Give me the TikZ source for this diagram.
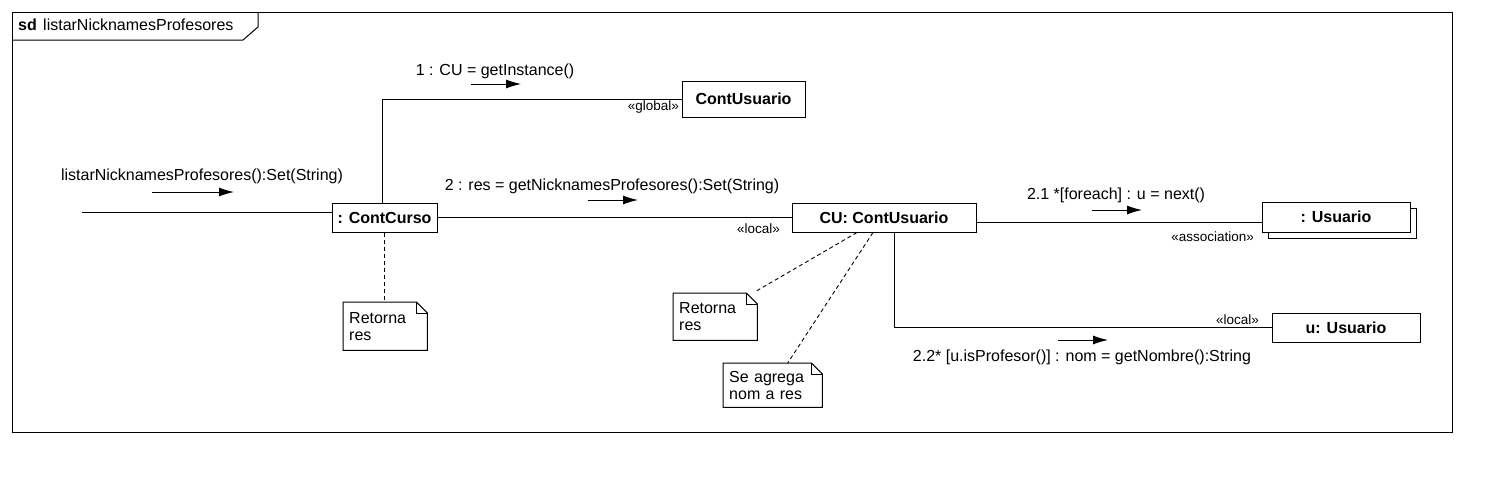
\documentclass[tikz,border=0pt]{standalone}
\usepackage{fontspec}
\setmainfont{Liberation Sans}
\usepackage{tikz}
\usetikzlibrary{arrows.meta, positioning, shadows}

\begin{document}
\begin{tikzpicture}[x=1pt, y=-1pt, >={Latex[length=15pt, width=9pt]},
    objeto/.style={draw, fill=white, line width=1pt, font=\fontsize{16}{17}\selectfont\bfseries, minimum height=29pt, inner sep=0pt},
    texto/.style={font=\fontsize{16}{17}\selectfont, inner sep=0pt},
    estereo/.style={font=\fontsize{13.5}{15}\selectfont, inner sep=0pt, anchor=east},
    nota/.style={font=\fontsize{16}{17}\selectfont, align=left, anchor=north west, inner xsep=6pt, inner ysep=0pt},
    enlace/.style={line width=1pt},
    nexo/.style={dash pattern=on 4pt off 3pt, line width=0.9pt}]
    \useasboundingbox (0,0) rectangle (1502,482);

    % 1. Marco sd con su etiqueta
    \draw[enlace] (12,12) rectangle (1452,432);
    \draw[enlace] (12,40) -- (243,40) -- (258,27) -- (258,12);
    \node[texto, anchor=west, font=\fontsize{16}{17}\selectfont\bfseries] (sd) at (18,25) {sd};
    \node[texto, anchor=west] (titulo) at (43,25) {listarNicknamesProfesores};

    % 2. Objetos
    \node[objeto, minimum width=105pt] (cc) at (384.5,217.5) {: ContCurso};
    \node[objeto, minimum width=123pt, minimum height=36pt] (cug) at (743.5,99) {ContUsuario};
    \node[objeto, minimum width=184pt] (cu) at (884,217.5) {CU: ContUsuario};
    \node[objeto, minimum width=148pt, minimum height=30pt,
        copy shadow={shadow xshift=6pt, shadow yshift=-6pt, draw, fill=white}] (usu) at (1336,217) {: Usuario};
    \node[objeto, minimum width=148pt] (uu) at (1346,327.5) {u: Usuario};

    % 3. Enlaces entre objetos
    \coordinate (entrada) at (82,212);
    \draw[enlace] (entrada) -- (entrada -| cc.west);
    \draw[enlace] ([xshift=-2.5pt]cc.north) |- (cug.west);
    \draw[enlace] (cc.east) -- (cu.west);
    \draw[enlace] ([yshift=-4.5pt]cu.east) -- ([yshift=-5pt]usu.west);
    \draw[enlace] ([xshift=10pt]cu.south) |- (uu.west);

    % 4. Estereotipos de los enlaces
    \node[estereo] (sg) at (679,107) {«global»};
    \node[estereo] (sl) at (780,229) {«local»};
    \node[estereo] (sa) at (1254,237) {«association»};
    \node[estereo] (slu) at (1259,320) {«local»};

    % 5. Mensajes con su flecha
    \node[texto] (m0) at (202,176) {listarNicknamesProfesores():Set(String)};
    \draw[enlace, ->] ([xshift=-50pt, yshift=-16pt]m0.center) -- ++(82,0);
    \node[texto] (m1) at (495,71) {1 : CU = getInstance()};
    \draw[enlace, ->] ([xshift=-24pt, yshift=-13pt]m1.center) -- ++(50,0);
    \node[texto] (m2) at (612,186) {2 : res = getNicknamesProfesores():Set(String)};
    \draw[enlace, ->] ([xshift=-24pt, yshift=-14pt]m2.center) -- ++(50,0);
    \node[texto] (m21) at (1116,195) {2.1 *[foreach] : u = next()};
    \draw[enlace, ->] ([xshift=-24pt, yshift=-15pt]m21.center) -- ++(50,0);
    \node[texto] (m22) at (1082,357) {2.2* [u.isProfesor()] : nom = getNombre():String};
    \draw[enlace, ->] ([xshift=-24pt, yshift=17pt]m22.center) -- ++(50,0);

    % 6. Notas
    \node[nota, text width=72pt, minimum height=48pt] (notaA) at (343,302) {Retorna\\res};
    \node[nota, text width=72pt, minimum height=47pt] (notaB) at (673,293) {Retorna\\res};
    \node[nota, text width=87pt, minimum height=44pt] (notaC) at (723,363) {Se agrega\\nom a res};
    \foreach \n in {notaA, notaB, notaC}{
        \draw[enlace] (\n.north west) -- ([xshift=-11pt]\n.north east) -- ([yshift=-11pt]\n.north east)
            -- (\n.south east) -- (\n.south west) -- cycle;
        \draw[enlace] ([xshift=-11pt]\n.north east) |- ([yshift=-11pt]\n.north east);
    }
    \draw[nexo] (cc.south) -- (cc.south |- notaA.north);
    \draw[nexo] ([xshift=-27pt]cu.south) -- ([xshift=-1pt, yshift=2pt]notaB.north east);
    \draw[nexo] ([xshift=-11pt]cu.south) -- ([xshift=15pt]notaC.north);

\end{tikzpicture}
\end{document}
